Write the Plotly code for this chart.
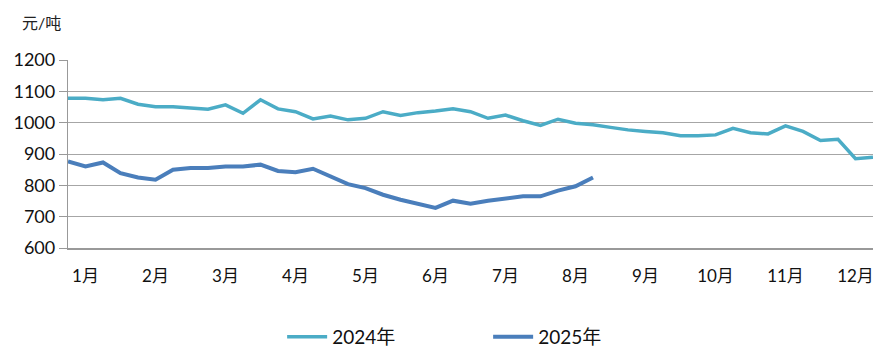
import plotly.graph_objects as go

# 2024 weekly prices (元/吨)
y2024 = [1078, 1078, 1073, 1078, 1059, 1051, 1051, 1048, 1043, 1057,
         1030, 1073, 1044, 1035, 1012, 1021, 1009, 1014, 1035, 1023,
         1032, 1037, 1044, 1035, 1014, 1024, 1006, 991, 1011, 998,
         993, 985, 977, 972, 968, 958, 958, 961, 982, 968,
         964, 990, 972, 943, 947, 885, 890]
# 2025 weekly prices (元/吨)
y2025 = [876, 860, 873, 839, 825, 818, 850, 855, 855, 860,
         860, 866, 846, 842, 853, 828, 804, 791, 770, 754,
         741, 728, 751, 741, 751, 757, 765, 765, 783, 797, 825]

month_labels = ["1月", "2月", "3月", "4月", "5月", "6月",
                "7月", "8月", "9月", "10月", "11月", "12月"]
month_weeks = [1, 5, 9, 13, 17, 21, 25, 29, 33, 37, 41, 45]

x2024 = list(range(len(y2024)))
x2025 = list(range(len(y2025)))

font_family = "Lato, Noto Sans CJK SC, sans-serif"

fig = go.Figure()
fig.add_trace(go.Scatter(x=x2024, y=y2024, mode="lines", name="2024年",
                         line=dict(color="#4BACC6", width=3.5)))
fig.add_trace(go.Scatter(x=x2025, y=y2025, mode="lines", name="2025年",
                         line=dict(color="#4A7EBB", width=4)))

# page body has an 8px default margin, so the figure is sized to fit
fig.update_layout(
    width=884, height=353,
    margin=dict(l=60, r=19, t=52, b=113, autoexpand=False),
    paper_bgcolor="white", plot_bgcolor="white",
    font=dict(family=font_family, size=16, color="#222"),
    showlegend=True,
    legend=dict(orientation="h", x=0.266, xanchor="left", y=-0.473, yanchor="middle",
                font=dict(size=19, color="#111"), itemwidth=40,
                tracegroupgap=0, entrywidth=151, entrywidthmode="pixels"),
    xaxis=dict(range=[0, len(y2024) - 1], tickmode="array",
               tickvals=month_weeks, ticktext=month_labels,
               showgrid=False, zeroline=False, showline=True,
               linecolor="#999", linewidth=2, ticks="outside", ticklen=12,
               tickcolor="rgba(0,0,0,0)", automargin=False,
               tickfont=dict(size=17, color="#111")),
    yaxis=dict(range=[600, 1200], dtick=100, showgrid=True,
               gridcolor="#a6a6a6", gridwidth=1.3, zeroline=False,
               showline=True, linecolor="#999", linewidth=1.3,
               ticks="outside", ticklen=8, tickcolor="#999", automargin=False,
               tickfont=dict(size=18, color="#111")),
)
fig.add_annotation(text="元/吨", xref="paper", yref="paper",
                   x=-0.060, y=1.2, xanchor="left", yanchor="middle",
                   showarrow=False, font=dict(size=16, color="#222"))

fig.write_html("out.html")
